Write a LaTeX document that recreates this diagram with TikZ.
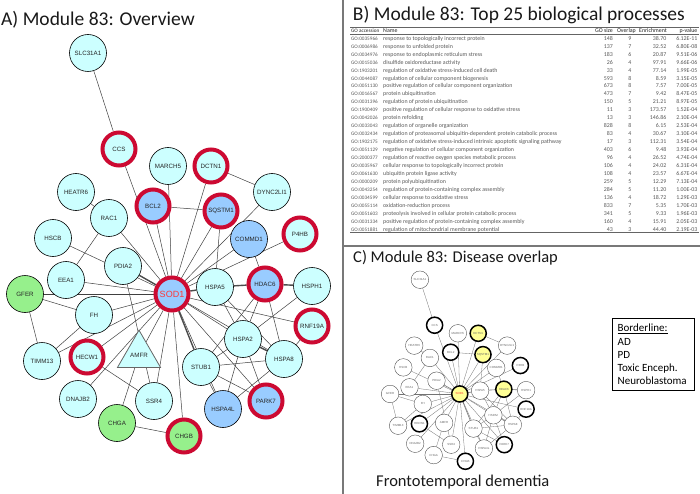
\documentclass[tikz,border=0pt]{standalone}
\usepackage{fontspec}
\setmainfont{Carlito}
\newfontfamily\labfont{Liberation Sans}
\usetikzlibrary{shapes.geometric}
\definecolor{cyanA}{RGB}{204,255,255}
\definecolor{blueA}{RGB}{153,204,255}
\definecolor{greenA}{RGB}{150,240,140}
\definecolor{ringred}{RGB}{204,10,50}
\definecolor{sodred}{RGB}{255,55,55}
\definecolor{yellowC}{RGB}{255,255,150}
\definecolor{rulec}{RGB}{100,100,100}
\definecolor{divc}{RGB}{120,120,120}
\pgfdeclarelayer{bgl}\pgfdeclarelayer{edl}\pgfsetlayers{bgl,edl,main}
\def\netnodes{%
\node[cy] (\npfx SLC) at (88,53) {SLC31A1};
\node[cyr] (\npfx CCS) at (119,149) {CCS};
\node[cy] (\npfx MARCH) at (168,166) {MARCH5};
\node[cyrY] (\npfx DCTN) at (211,166) {DCTN1};
\node[cy] (\npfx HEATR) at (76,192) {HEATR6};
\node[cy] (\npfx DYNC) at (272,192) {DYNC2LI1};
\node[blr] (\npfx BCL) at (153,206) {BCL2};
\node[blrY] (\npfx SQSTM) at (221,211) {SQSTM1};
\node[cy] (\npfx RAC) at (109,218) {RAC1};
\node[cy] (\npfx HSCB) at (53,238) {HSCB};
\node[bl] (\npfx COMMD) at (249,239) {COMMD1};
\node[cyr] (\npfx PHB) at (300,234) {P4HB};
\node[cy] (\npfx PDIA) at (123,266) {PDIA2};
\node[cy] (\npfx EEA) at (66,280) {EEA1};
\node[gr] (\npfx GFER) at (25,294) {GFER};
\node[sod] (\npfx SOD) at (172,294) {SOD1};
\node[cy] (\npfx HSPAv) at (215,287) {HSPA5};
\node[blrY] (\npfx HDAC) at (265,284) {HDAC6};
\node[cy] (\npfx HSPH) at (312,286) {HSPH1};
\node[cy] (\npfx FH) at (94,315) {FH};
\node[cyr] (\npfx RNF) at (312,326) {RNF19A};
\node[cy] (\npfx HSPAii) at (243,339) {HSPA2};
\node[cyr] (\npfx HECW) at (87,357) {HECW1};
\node[cy] (\npfx TIMM) at (42,361) {TIMM13};
\node[tri] (\npfx AMFR) at (139,355) {AMFR};
\node[cy] (\npfx STUB) at (201,367) {STUB1};
\node[cy] (\npfx HSPAviii) at (284,359) {HSPA8};
\node[cy] (\npfx DNAJ) at (78,399) {DNAJB2};
\node[cy] (\npfx SSR) at (154,401) {SSR4};
\node[bl] (\npfx HSPAiv) at (223,409) {HSPA4L};
\node[blr] (\npfx PARK) at (266,401) {PARK7};
\node[gr] (\npfx CHGA) at (117,423) {CHGA};
\node[grr] (\npfx CHGB) at (184,436) {CHGB};
}
\def\netedges{%
\draw[ed] (\npfx SLC) -- (\npfx CCS);
\draw[ed] (\npfx CCS) -- (\npfx SOD);
\draw[ed] (\npfx MARCH) -- (\npfx SOD);
\draw[ed] (\npfx DCTN) -- (\npfx SOD);
\draw[ed] (\npfx DCTN) -- (\npfx DYNC);
\draw[ed] (\npfx DYNC) -- (\npfx SOD);
\draw[ed] (\npfx BCL) -- (\npfx SQSTM);
\draw[ed] (\npfx BCL) -- (\npfx SOD);
\draw[ed] (\npfx SQSTM) -- (\npfx SOD);
\draw[ed] (\npfx SQSTM) -- (\npfx HSPAv);
\draw[ed] (\npfx HEATR) -- (\npfx RAC);
\draw[ed] (\npfx RAC) -- (\npfx SOD);
\draw[ed] (\npfx RAC) -- (\npfx EEA);
\draw[ed] (\npfx HSCB) -- (\npfx SOD);
\draw[ed] (\npfx COMMD) -- (\npfx SOD);
\draw[ed] (\npfx COMMD) -- (\npfx HDAC);
\draw[ed] (\npfx PHB) -- (\npfx SOD);
\draw[bund] (\npfx PDIA) -- (\npfx SOD);
\draw[ed] (\npfx PDIA) -- (\npfx SSR);
\draw[ed] (\npfx EEA) -- (\npfx SOD);
\draw[ed] (\npfx GFER) -- (\npfx SOD);
\draw[ed] (\npfx GFER) -- (\npfx FH);
\draw[ed] (\npfx GFER) -- (\npfx TIMM);
\draw[ed] (\npfx FH) -- (\npfx SOD);
\draw[ed] (\npfx TIMM) -- (\npfx FH);
\draw[ed] (\npfx TIMM) -- (\npfx SOD);
\draw[ed] (\npfx HECW) -- (\npfx SOD);
\draw[ed] (\npfx HECW) -- (\npfx SSR);
\draw[ed] (\npfx DNAJ) -- (\npfx SOD);
\draw[ed] (\npfx AMFR) -- (\npfx SOD);
\draw[ed] (\npfx AMFR) -- (\npfx CHGA);
\draw[ed] (\npfx SSR) -- (\npfx SOD);
\draw[ed] (\npfx CHGA) -- (\npfx CHGB);
\draw[ed] (\npfx CHGB) -- (\npfx SOD);
\draw[bund] (\npfx SOD) -- (\npfx HSPAv);
\draw[bund] (\npfx HSPAv) -- (\npfx HDAC);
\draw[bund] (\npfx HDAC) -- (\npfx HSPH);
\draw[ed] (\npfx SOD) -- (\npfx RNF);
\draw[ed] (\npfx SOD) -- (\npfx HSPAii);
\draw[ed] (\npfx SOD) -- (\npfx HSPAviii);
\draw[bund] (\npfx SOD) -- (\npfx STUB);
\draw[ed] (\npfx SOD) -- (\npfx HSPAiv);
\draw[ed] (\npfx SOD) -- (\npfx PARK);
\draw[ed] (\npfx HSPAv) -- (\npfx HSPAii);
\draw[ed] (\npfx HSPAv) -- (\npfx HSPAviii);
\draw[ed] (\npfx HDAC) -- (\npfx HSPAii);
\draw[ed] (\npfx HDAC) -- (\npfx HSPAviii);
\draw[ed] (\npfx HDAC) -- (\npfx STUB);
\draw[ed] (\npfx HSPH) -- (\npfx HSPAii);
\draw[ed] (\npfx RNF) -- (\npfx HSPAviii);
\draw[bund] (\npfx HSPAii) -- (\npfx HSPAviii);
\draw[ed] (\npfx HSPAii) -- (\npfx STUB);
\draw[ed] (\npfx HSPAii) -- (\npfx HSPAiv);
\draw[ed] (\npfx HSPAii) -- (\npfx PARK);
\draw[ed] (\npfx STUB) -- (\npfx HSPAviii);
\draw[ed] (\npfx STUB) -- (\npfx HSPAiv);
\draw[ed] (\npfx STUB) -- (\npfx PARK);
\draw[ed] (\npfx HSPAviii) -- (\npfx HSPAiv);
}
\tikzset{
  base/.style={circle, draw=black, line width=0.6pt, minimum size=37pt, inner sep=0pt,
    font=\labfont\fontsize{6.2}{7}\selectfont, text=black!85},
  cy/.style={base, fill=cyanA},
  cyr/.style={base, fill=cyanA, draw=ringred, line width=4pt, minimum size=33pt},
  cyrY/.style={cyr},
  bl/.style={base, fill=blueA},
  blr/.style={base, fill=blueA, draw=ringred, line width=4pt, minimum size=33pt},
  blrY/.style={blr},
  gr/.style={base, fill=greenA},
  grr/.style={base, fill=greenA, draw=ringred, line width=4pt, minimum size=33pt},
  sod/.style={blr, font=\labfont\fontsize{9}{10}\selectfont, text=sodred},
  tri/.style={regular polygon, regular polygon sides=3, minimum size=44pt, inner sep=0pt,
    fill=cyanA, draw=black!60, line width=0.8pt, font=\labfont\fontsize{6.2}{7}\selectfont, text=black!85},
  ed/.style={draw=black!75, line width=0.5pt},
  bund/.style={draw=black!70, line width=1.4pt},
  ttl/.style={font=\fontsize{19.5}{22}\selectfont, text=black!90, anchor=base west, inner sep=0pt},
  ttlc/.style={font=\fontsize{16.5}{19}\selectfont, text=black!90, anchor=base west, inner sep=0pt},
  tb/.style={font=\fontsize{5.9}{6.5}\selectfont, text=black!65, inner sep=0pt},
  tba/.style={font=\fontsize{5.2}{6.5}\selectfont, text=black!65, inner sep=0pt},
  th/.style={font=\fontsize{5.9}{6.5}\selectfont, text=black!85, inner sep=0pt},
  tha/.style={font=\fontsize{5.2}{6.5}\selectfont, text=black!85, inner sep=0pt},
  lg/.style={font=\fontsize{11}{13}\selectfont, text=black, inner sep=0pt, anchor=base west}
}
\begin{document}
\begin{tikzpicture}[x=1pt,y=-1pt]
\begin{pgfonlayer}{bgl}
\fill[white] (0,0) rectangle (700,494);
\end{pgfonlayer}
\useasboundingbox (0,0) rectangle (700,494);
% panel dividers
\draw[divc, line width=1.2pt] (343,0) -- (343,494);
\draw[divc, line width=1.2pt] (343,246) -- (700,246);
% titles
\node[ttl] (tA) at (1,25.7) {A) Module 83: Overview};
\node[ttl] (tB) at (352.7,20.7) {B) Module 83: Top 25 biological processes};
\node[ttlc] (tC) at (353,262.7) {C) Module 83: Disease overlap};
% network A
\def\npfx{a}
\netnodes
\begin{pgfonlayer}{edl}
\netedges
\end{pgfonlayer}
% network C
\begin{scope}[shift={(378.2,254.6)}, scale=0.474, transform shape,
  base/.style={circle, draw=black!75, line width=0.35pt, minimum size=37pt, inner sep=0pt,
    fill=white, font=\labfont\fontsize{6.2}{7}\selectfont, text=black!60},
  cy/.style={base}, bl/.style={base}, gr/.style={base}, tri/.style={base},
  cyr/.style={base, draw=black, line width=1.5pt, minimum size=34pt},
  blr/.style={cyr}, grr/.style={cyr},
  cyrY/.style={cyr, fill=yellowC}, blrY/.style={cyrY},
  sod/.style={cyrY, text=sodred},
  ed/.style={draw=black!55, line width=0.3pt},
  bund/.style={draw=black!55, line width=0.6pt}]
\def\npfx{c}
\netnodes
\begin{pgfonlayer}{edl}
\netedges
\end{pgfonlayer}
\end{scope}
% legend C
\node[draw=black, line width=0.8pt, anchor=north west, minimum width=82.6pt, minimum height=71.7pt, inner sep=0pt] (leg) at (611.7,318.3) {};
\node[lg] (lg0) at (617.5,331.7) {\underline{Borderline:}};
\node[lg] (lg1) at (617.5,345) {AD};
\node[lg] (lg2) at (617.5,358) {PD};
\node[lg] (lg3) at (617.5,371) {Toxic Enceph.};
\node[lg] (lg4) at (617.5,384) {Neuroblastoma};
\node[ttlc] (ftd) at (376,486.7) {Frontotemporal dementia};
% table B
\draw[rulec, line width=1.3pt] (350,27.5) -- (699,27.5);
\draw[rulec, line width=0.6pt] (350,34.3) -- (699,34.3);
\draw[rulec, line width=1.3pt] (350,232.7) -- (699,232.7);
\node[tha, anchor=base west] (h1) at (351,32.6) {GO accession};
\node[th, anchor=base west] (h2) at (383,32.6) {Name};
\node[th, anchor=base east] (h3) at (613,32.6) {GO size};
\node[th, anchor=base east] (h4) at (636,32.6) {Overlap};
\node[th, anchor=base east] (h5) at (667,32.6) {Enrichment};
\node[th, anchor=base east] (h6) at (697.5,32.6) {p-value};
\foreach \acc/\nm/\sz/\ov/\en/\pv [count=\i] in {
GO:0035966/response to topologically incorrect protein/148/9/38.70/6.12E-11,
GO:0006986/response to unfolded protein/137/7/32.52/6.80E-08,
GO:0034976/response to endoplasmic reticulum stress/183/6/20.87/9.51E-06,
GO:0015036/disulfide oxidoreductase activity/26/4/97.91/9.66E-06,
GO:1903201/regulation of oxidative stress-induced cell death/33/4/77.14/1.99E-05,
GO:0044087/regulation of cellular component biogenesis/593/8/8.59/3.15E-05,
GO:0051130/positive regulation of cellular component organization/673/8/7.57/7.00E-05,
GO:0016567/protein ubiquitination/473/7/9.42/8.47E-05,
GO:0031396/regulation of protein ubiquitination/150/5/21.21/8.97E-05,
GO:1900409/positive regulation of cellular response to oxidative stress/11/3/173.57/1.52E-04,
GO:0042026/protein refolding/13/3/146.86/2.10E-04,
GO:0033043/regulation of organelle organization/828/8/6.15/2.53E-04,
GO:0032434/regulation of proteasomal ubiquitin-dependent protein catabolic process/83/4/30.67/3.10E-04,
GO:1902175/regulation of oxidative stress-induced intrinsic apoptotic signaling pathway/17/3/112.31/3.54E-04,
GO:0051129/negative regulation of cellular component organization/403/6/9.48/3.93E-04,
GO:2000377/regulation of reactive oxygen species metabolic process/96/4/26.52/4.74E-04,
GO:0035967/cellular response to topologically incorrect protein/106/4/24.02/6.31E-04,
GO:0061630/ubiquitin protein ligase activity/108/4/23.57/6.67E-04,
GO:0000209/protein polyubiquitination/259/5/12.29/7.13E-04,
GO:0043254/regulation of protein-containing complex assembly/284/5/11.20/1.00E-03,
GO:0034599/cellular response to oxidative stress/136/4/18.72/1.29E-03,
GO:0055114/oxidation-reduction process/833/7/5.35/1.70E-03,
GO:0051603/proteolysis involved in cellular protein catabolic process/341/5/9.33/1.96E-03,
GO:0031334/positive regulation of protein-containing complex assembly/160/4/15.91/2.05E-03,
GO:0051881/regulation of mitochondrial membrane potential/43/3/44.40/2.19E-03}{
  \pgfmathsetmacro\yy{38.3+7.95*(\i-1)+2}
  \node[tba, anchor=base west] (ra\i) at (351,\yy) {\acc};
  \node[tb, anchor=base west] (rb\i) at (383,\yy) {\nm};
  \node[tb, anchor=base east] (rc\i) at (613,\yy) {\sz};
  \node[tb, anchor=base east] (rd\i) at (631.5,\yy) {\ov};
  \node[tb, anchor=base east] (re\i) at (666.5,\yy) {\en};
  \node[tb, anchor=base east] (rf\i) at (697.5,\yy) {\pv};
}
\end{tikzpicture}
\end{document}
